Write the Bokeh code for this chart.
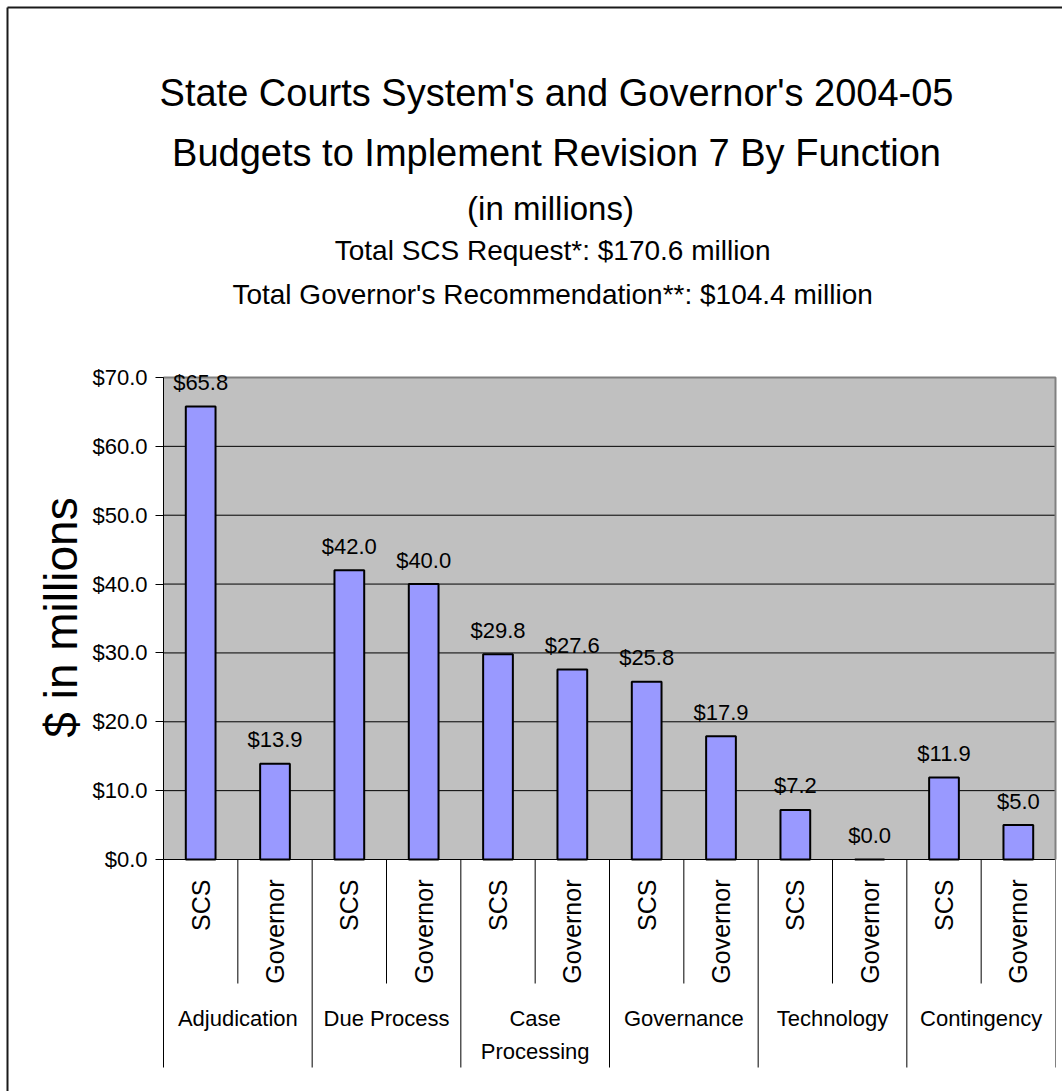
import math
from bokeh.plotting import figure
from bokeh.models import (Range1d, FixedTicker, NumeralTickFormatter, LinearAxis,
                          ColumnDataSource)
from bokeh.core.properties import value
from bokeh.embed import file_html
from bokeh.resources import INLINE

# ---------------- data ----------------
groups = ["Adjudication", "Due Process", "Case Processing", "Governance",
          "Technology", "Contingency"]
group_labels = ["Adjudication", "Due Process", "Case\nProcessing", "Governance",
                "Technology", "Contingency"]
subs = ["SCS", "Governor"]
scs_values = [65.8, 42.0, 29.8, 25.8, 7.2, 11.9]
gov_values = [13.9, 40.0, 27.6, 17.9, 0.0, 5.0]
y_ticks = [0, 10, 20, 30, 40, 50, 60, 70]
title_1 = "State Courts System's and Governor's 2004-05"
title_2 = "Budgets to Implement Revision 7 By Function"
subtitle_1 = "(in millions)"
subtitle_2 = "Total SCS Request*:  $170.6 million"
subtitle_3 = "Total Governor's Recommendation**:  $104.4 million"
y_label = "$ in millions"

# ---------------- layout constants (pixels) ----------------
FONT = "Liberation Sans"
W, H = 1062, 1091
PLOT_LEFT, PLOT_RIGHT, PLOT_TOP, PLOT_BOTTOM = 163, 1055, 377, 859
Y_MAX = y_ticks[-1]
n_sub = len(subs)
n = len(groups) * n_sub
UX = (PLOT_RIGHT - PLOT_LEFT) / n          # px per x unit
UY = (PLOT_BOTTOM - PLOT_TOP) / Y_MAX      # px per y unit


def X(px):
    return (px - PLOT_LEFT) / UX


def Y(py):
    return (PLOT_BOTTOM - py) / UY


xs, tops, sub_names, lab = [], [], [], []
for g in range(len(groups)):
    for j, vals in enumerate([scs_values, gov_values]):
        xs.append(g * n_sub + j + 0.5)
        tops.append(vals[g])
        sub_names.append(subs[j])
        lab.append("$%.1f" % vals[g])
src = ColumnDataSource(dict(x=xs, top=tops, sub=sub_names, label=lab))

p = figure(width=W, height=H, x_range=Range1d(X(0), X(W)), y_range=Range1d(Y(H), Y(0)),
           output_backend="svg", toolbar_location=None,
           x_axis_location=None, y_axis_location=None,
           min_border_left=0, min_border_right=0, min_border_top=0, min_border_bottom=0,
           background_fill_color="white", border_fill_color="white",
           outline_line_color=None)
p.xgrid.visible = False
p.ygrid.visible = False

# plot area background
p.quad(left=0, right=n, bottom=0, top=Y_MAX, fill_color="#C0C0C0", line_color=None)

# horizontal grid lines
p.segment(x0=[0] * len(y_ticks), y0=y_ticks, x1=[n] * len(y_ticks), y1=y_ticks,
          line_color="black", line_width=1)

# plot-area border (top and right)
p.line(x=[0, n, n], y=[Y_MAX, Y_MAX, 0], line_color="#808080", line_width=2)

# y axis, fixed at x = 0
yaxis = LinearAxis(fixed_location=0, bounds=(0, Y_MAX),
                   ticker=FixedTicker(ticks=y_ticks),
                   formatter=NumeralTickFormatter(format="$0.0"))
yaxis.axis_line_color = "black"
yaxis.axis_line_width = 1
yaxis.major_tick_line_color = "black"
yaxis.major_tick_out = 8
yaxis.major_tick_in = 0
yaxis.minor_tick_line_color = None
yaxis.major_label_standoff = 8
yaxis.major_label_text_font = FONT
yaxis.major_label_text_font_size = "22px"
yaxis.major_label_text_color = "black"
p.add_layout(yaxis, "left")

# bars
p.vbar(x="x", top="top", width=0.4, source=src, fill_color="#9999FF",
       line_color="black", line_width=2)

# data labels
p.text(x="x", y="top", text="label", source=src, text_font=value(FONT),
       text_font_size="22px", text_align="center", text_baseline="alphabetic",
       y_offset=-24, text_color="black")

# sub-category labels (rotated)
p.text(x="x", y=0, text="sub", source=src, angle=math.pi / 2,
       text_font=value(FONT), text_font_size="25px", text_align="right",
       text_baseline="middle", y_offset=20, text_color="black")

# category separators
sub_sep_x = [g * n_sub + 1 for g in range(len(groups))]
p.segment(x0=sub_sep_x, y0=[0] * len(sub_sep_x), x1=sub_sep_x,
          y1=[Y(983)] * len(sub_sep_x), line_color="black", line_width=1)
grp_sep_x = [g * n_sub for g in range(len(groups) + 1)]
p.segment(x0=grp_sep_x, y0=[0] * len(grp_sep_x), x1=grp_sep_x,
          y1=[Y(1067)] * len(grp_sep_x),
          line_color=["black"] * len(groups) + ["#808080"], line_width=1)

# group labels
p.text(x=[g * n_sub + n_sub / 2 for g in range(len(groups))], y=[0] * len(groups),
       text=group_labels, text_font=value(FONT), text_font_size="22px",
       text_align="center", text_baseline="top", y_offset=146,
       text_line_height=1.35, text_color="black")

# titles
p.text(x=[X(556), X(556), X(550), X(556), X(556)],
       y=[Y(92), Y(152), Y(208), Y(250), Y(294)],
       text=[title_1, title_2, subtitle_1, subtitle_2, subtitle_3],
       text_font=value(FONT),
       text_font_size=["38px", "38px", "33px", "28px", "28px"],
       text_align="center", text_baseline="alphabetic", text_color="black")

# y axis title
p.text(x=[X(60)], y=[Y(617)], text=[y_label], angle=math.pi / 2,
       text_font=value(FONT), text_font_size="46px", text_align="center",
       text_baseline="middle", text_color="black")

# outer chart border (left and top)
p.segment(x0=[X(7), X(7)], y0=[Y(7), Y(7)], x1=[X(7), X(W + 10)],
          y1=[Y(H + 10), Y(7)], line_color="#1a1a1a", line_width=2)

open("out.html", "w").write(file_html(p, INLINE))
